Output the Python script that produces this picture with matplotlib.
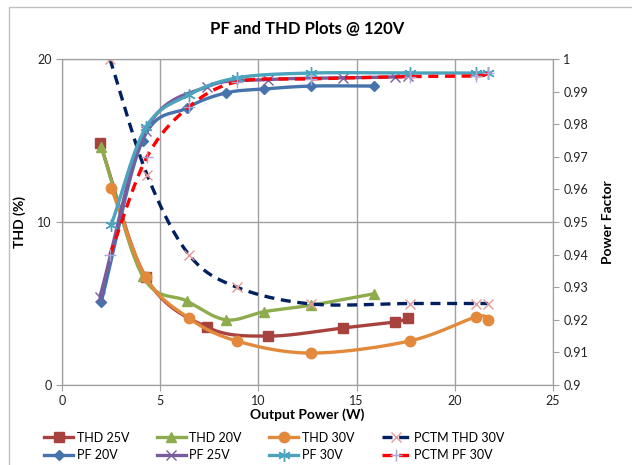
import numpy as np
import matplotlib.pyplot as plt
from matplotlib.lines import Line2D
from matplotlib.patches import Rectangle

plt.rcParams['font.family'] = ['Lato', 'DejaVu Sans']

# ____________________________________________________________
# data

# THD (left axis, %)
x_thd25 = [1.93, 4.27, 7.38, 10.5, 14.3, 16.95, 17.6]
thd25 = [14.85, 6.6, 3.55, 3.0, 3.5, 3.87, 4.1]

x_thd20 = [2.0, 4.1, 6.36, 8.35, 10.3, 12.7, 15.9]
thd20 = [14.6, 6.7, 5.15, 4.0, 4.5, 4.9, 5.6]

x_thd30 = [2.5, 4.27, 6.46, 8.9, 12.7, 17.7, 21.07, 21.7]
thd30 = [12.1, 6.6, 4.1, 2.7, 1.96, 2.7, 4.17, 4.0]

x_pctm = [2.44, 4.33, 6.46, 8.9, 12.7, 17.7, 21.07, 21.7]
pctm_thd30 = [20.0, 12.9, 8.0, 6.0, 4.97, 5.0, 5.0, 5.0]

# power factor (right axis)
pf20 = [0.9255, 0.975, 0.985, 0.9896, 0.9908, 0.9917, 0.9917]
pf25 = [0.927, 0.978, 0.9915, 0.9937, 0.9942, 0.9945, 0.9948]
pf30 = [0.949, 0.979, 0.989, 0.9942, 0.9957, 0.9957, 0.9957, 0.9957]
pctm_pf30 = [0.940, 0.970, 0.9853, 0.993, 0.9939, 0.9946, 0.9948, 0.9957]

c_thd25 = '#A8423F'
c_thd20 = '#8EAC4E'
c_thd30 = '#E3893C'
c_pctm = '#002060'
c_pf20 = '#4673AC'
c_pf25 = '#7A5C9E'
c_pf30 = '#4BA3BD'
c_pctmpf = '#FF0000'


def smooth(x, y, n=30):
    # catmull-rom curve through the points, like excel's smoothed line
    x = np.asarray(x, float)
    y = np.asarray(y, float)
    px = np.r_[2 * x[0] - x[1], x, 2 * x[-1] - x[-2]]
    py = np.r_[2 * y[0] - y[1], y, 2 * y[-1] - y[-2]]
    t = np.linspace(0, 1, n)
    xs, ys = [], []
    for i in range(1, len(px) - 2):
        for p, out in ((px, xs), (py, ys)):
            p0, p1, p2, p3 = p[i - 1], p[i], p[i + 1], p[i + 2]
            out.append(0.5 * (2 * p1 + (-p0 + p2) * t
                              + (2 * p0 - 5 * p1 + 4 * p2 - p3) * t ** 2
                              + (-p0 + 3 * p1 - 3 * p2 + p3) * t ** 3))
    return np.concatenate(xs), np.concatenate(ys)


fig = plt.figure(figsize=(6.32, 4.65), dpi=100)
fig.patches.append(Rectangle((9 / 632, -0.1), 1.2, 1 - 7 / 465 + 0.1,
                             transform=fig.transFigure, fill=False,
                             edgecolor='#BFBFBF', lw=1))
ax = fig.add_axes([62 / 632, 1 - 385 / 465, (553 - 62) / 632, (385 - 59) / 465])
ax2 = ax.twinx()

lw = 2.4
gray = '#A0A0A0'


def draw(a, x, y, color, marker, ms, mec=None, mew=1.0, ls='-'):
    sx, sy = smooth(x, y)
    a.plot(sx, sy, color=color, lw=lw, ls=ls, solid_capstyle='round')
    a.plot(x, y, ls='none', marker=marker, ms=ms, color=color,
           mec=mec or color, mfc=color, mew=mew)
    return Line2D([], [], color=color, lw=lw, ls=ls, marker=marker, ms=ms,
                  mfc=color, mec=mec or color, mew=mew)


dash = (0, (3, 2))
h_thd25 = draw(ax, x_thd25, thd25, c_thd25, 's', 7)
h_thd20 = draw(ax, x_thd20, thd20, c_thd20, '^', 7.5)
h_thd30 = draw(ax, x_thd30, thd30, c_thd30, 'o', 7.5)
h_pctm = draw(ax, x_pctm, pctm_thd30, c_pctm, 'x', 7, mec='#E29A9A', mew=1.0, ls=dash)

h_pf20 = draw(ax2, x_thd20, pf20, c_pf20, 'D', 5.5)
h_pf25 = draw(ax2, x_thd25, pf25, c_pf25, 'x', 7, mew=1.0)
h_pf30 = draw(ax2, x_thd30, pf30, c_pf30, (6, 2, 0), 9, mew=1.0)
h_pctmpf = draw(ax2, x_pctm, pctm_pf30, c_pctmpf, '+', 8, mec='#A8A4D8', mew=1.0, ls=dash)

ax.set_xlim(0, 25)
ax.set_ylim(0, 20)
ax2.set_ylim(0.9, 1.0)
ax.set_xticks(np.arange(0, 26, 5))
ax.set_yticks([0, 10, 20])
ax2.set_yticks(np.round(np.arange(0.9, 1.0001, 0.01), 2))
ax2.set_yticklabels(['0.9', '0.91', '0.92', '0.93', '0.94', '0.95', '0.96',
                     '0.97', '0.98', '0.99', '1'])

ax.grid(True, color=gray, lw=1)
ax.set_axisbelow(True)
for a in (ax, ax2):
    for s in a.spines.values():
        s.set_color(gray)
    a.tick_params(colors=gray, labelcolor='#222222', labelsize=9, length=4)

ax.set_title('PF and THD Plots @ 120V', fontsize=12, fontweight='bold', pad=18)
ax.set_xlabel('Output Power (W)', fontsize=10, fontweight='bold', labelpad=1)
ax.set_ylabel('THD (%)', fontsize=10, fontweight='bold', labelpad=8)
ax2.set_ylabel('Power Factor', fontsize=10, fontweight='bold', labelpad=10)

handles = [h_thd25, h_pf20, h_thd20, h_pf25, h_thd30, h_pf30, h_pctm, h_pctmpf]
labels = ['THD 25V', 'PF 20V', 'THD 20V', 'PF 25V', 'THD 30V', 'PF 30V',
          'PCTM THD 30V', 'PCTM PF 30V']
fig.legend(handles, labels, ncol=4, loc='lower left',
           bbox_to_anchor=(33 / 632, -0.016), frameon=False, fontsize=9,
           handlelength=2.3, handletextpad=0.3, columnspacing=2.2,
           labelspacing=0.45)

fig.savefig('out.png', dpi=100)
